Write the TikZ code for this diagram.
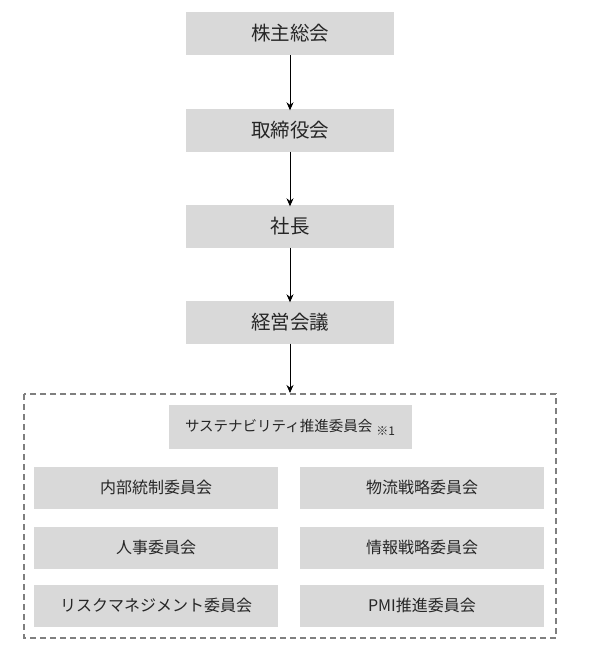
\documentclass[tikz,border=0pt]{standalone}
\usepackage{fontspec}
\setmainfont{Noto Sans CJK JP}
\usetikzlibrary{arrows.meta}
\definecolor{boxgray}{HTML}{D9D9D9}
\definecolor{txt}{HTML}{262626}
\definecolor{dashgray}{HTML}{7F7F7F}
\begin{document}
\begin{tikzpicture}[x=1pt,y=-1pt,
  topbox/.style={fill=boxgray,minimum width=208pt,minimum height=43pt,inner sep=0pt,text=txt,font=\fontsize{19.5}{21}\selectfont},
  subbox/.style={fill=boxgray,minimum width=244pt,minimum height=42pt,inner sep=0pt,text=txt,font=\fontsize{16}{18}\selectfont},
  arr/.style={-{Stealth[length=8pt,width=7pt]},line width=0.8pt,black}]
\useasboundingbox (0,0) rectangle (591,653);
\node[topbox] (a) at (290,33.5) {株主総会};
\node[topbox] (b) at (290,130) {取締役会};
\node[topbox] (c) at (290,226) {社長};
\node[topbox] (d) at (290,322) {経営会議};
\draw[dashgray,line width=1.4pt,dash pattern=on 6pt off 4pt] (24,394) rectangle (556,638);
\coordinate (e) at (290,393);
\node[subbox,minimum width=243pt,minimum height=44pt,font=\fontsize{14.5}{17}\selectfont] (s) at (290,427) {サステナビリティ推進委員会\hspace{4pt}\raisebox{-4pt}{\fontsize{12}{13}\selectfont ※1}};
\node[subbox] (l1) at (156,487.5) {内部統制委員会};
\node[subbox] (l2) at (156,547.5) {人事委員会};
\node[subbox] (l3) at (156,605.5) {リスクマネジメント委員会};
\node[subbox] (r1) at (422,487.5) {物流戦略委員会};
\node[subbox] (r2) at (422,547.5) {情報戦略委員会};
\node[subbox] (r3) at (422,605.5) {PMI推進委員会};
\draw[arr] (a.south) -- ([yshift=-2pt]b.north);
\draw[arr] (b.south) -- ([yshift=-2pt]c.north);
\draw[arr] (c.south) -- ([yshift=-2pt]d.north);
\draw[arr] (d.south) -- (e);
\end{tikzpicture}
\end{document}
